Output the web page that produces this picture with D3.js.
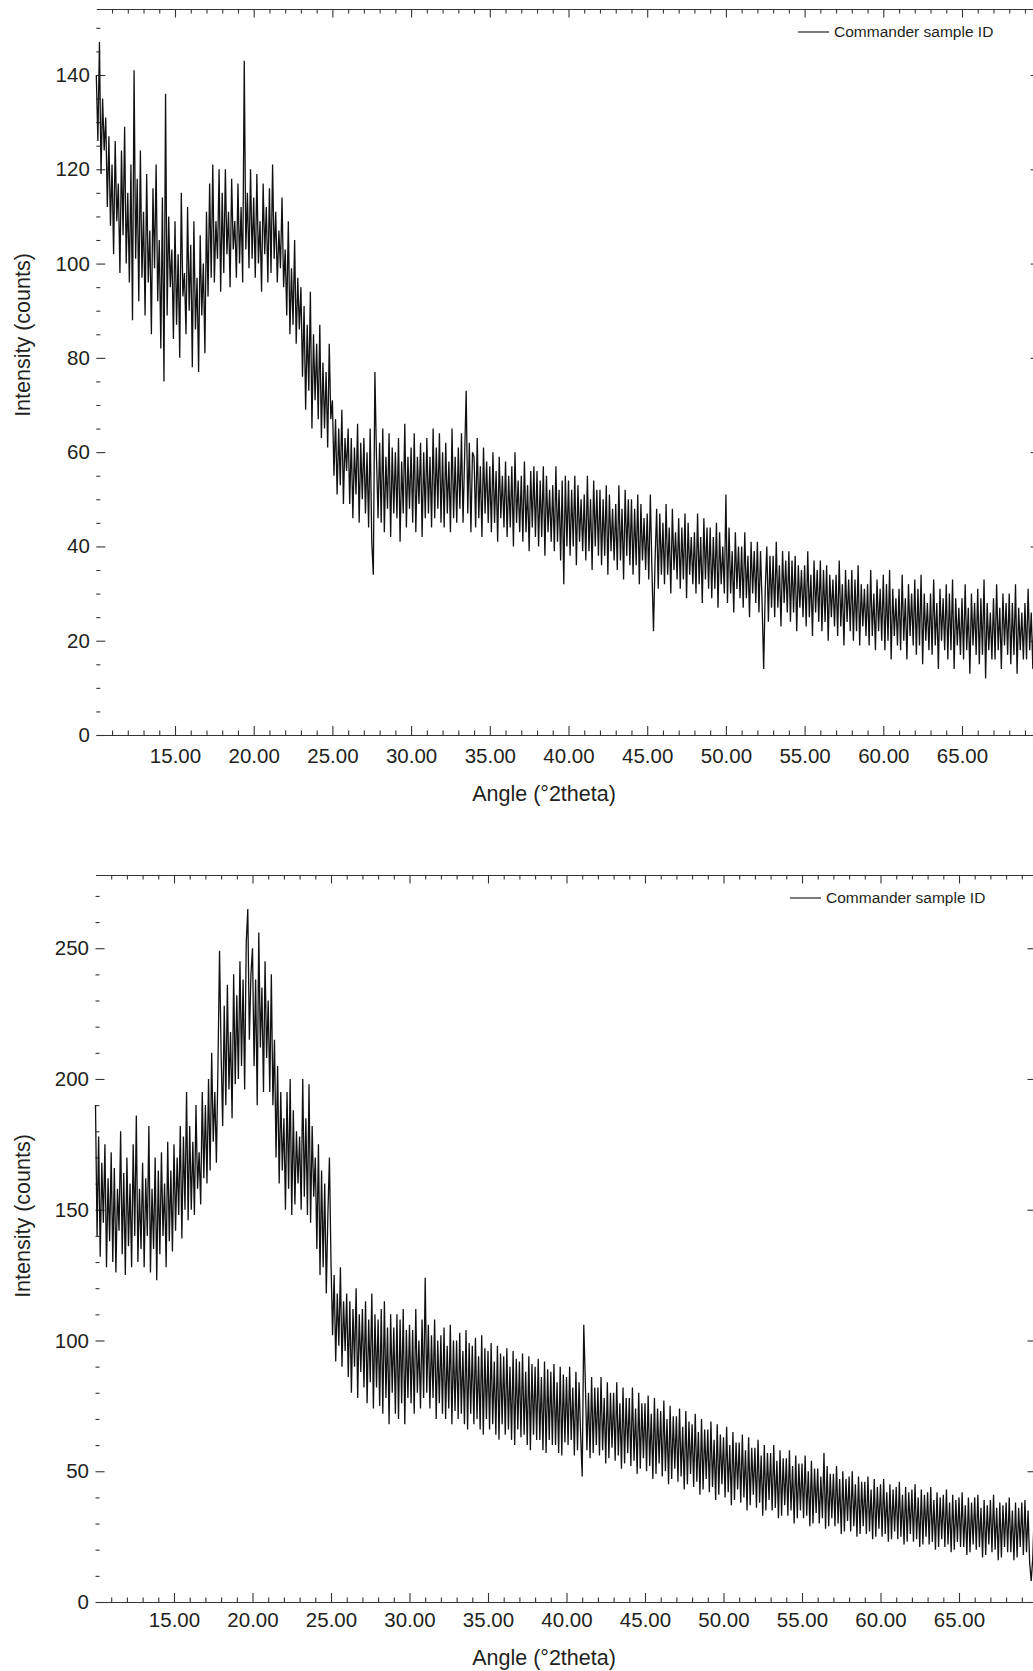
<!DOCTYPE html>
<html>
<head>
<meta charset="utf-8">
<script src="https://cdn.jsdelivr.net/npm/d3@7"></script>
<style>
  body { margin: 0; background: #fff; }
  svg { display: block; font-family: "Liberation Sans", Arial, sans-serif; }
</style>
</head>
<body>
<div id="chart"></div>
<script>
const W = 1033;
const H = 1671;

// scan grid: 10.0 to 69.9 degrees, one reading every 0.1
const angleStart = 10;
const angleStep = 0.1;

const xMajorTicks = [15, 20, 25, 30, 35, 40, 45, 50, 55, 60, 65];
const topYTicks = [0, 20, 40, 60, 80, 100, 120, 140];
const bottomYTicks = [0, 50, 100, 150, 200, 250];

const seriesName = "Commander sample ID";
const xTitle = "Angle (°2theta)";
const yTitle = "Intensity (counts)";

// upper pattern, counts, rows of one degree
const topCounts = [
  140,126,147,119,135,124,131,112,127,108,
  121,102,126,109,117,98,124,106,129,100,
  115,96,121,88,141,101,118,92,124,97,
  111,89,119,96,107,85,116,99,121,92,
  105,82,114,75,136,89,110,95,103,84,
  109,87,102,80,115,93,98,85,112,90,
  104,78,109,86,97,77,106,89,100,81,
  111,93,117,97,121,96,109,101,120,94,
  115,98,120,102,111,95,118,103,109,97,
  117,100,112,96,143,103,115,99,120,101,
  114,97,119,100,109,94,117,102,112,96,
  116,98,121,101,111,96,107,99,114,95,
  103,89,109,85,99,87,105,83,97,86,
  95,76,91,69,87,73,94,65,85,71,
  83,67,87,63,79,65,77,61,83,67,
  71,55,67,51,65,53,69,49,63,56,
  65,49,63,46,61,51,66,45,62,50,
  63,47,60,44,65,41,34,77,59,46,
  62,45,65,43,59,48,64,42,61,47,
  60,46,63,41,58,47,66,44,59,48,
  61,45,64,43,59,49,62,42,60,46,
  63,47,59,44,65,46,61,48,64,45,
  60,44,62,47,58,43,65,46,59,45,
  61,48,64,45,59,73,47,62,43,60,
  59,44,63,46,57,42,61,47,58,45,
  57,43,60,45,56,41,59,46,55,44,
  58,42,55,44,57,40,60,45,54,43,
  55,41,58,43,53,39,56,44,57,42,
  56,40,54,42,57,38,55,43,52,41,
  53,39,57,41,52,37,54,32,55,40,
  54,38,52,40,55,36,53,41,50,39,
  51,37,55,39,50,35,54,40,52,38,
  52,36,50,38,53,34,51,39,48,37,
  49,35,53,37,48,33,52,38,50,36,
  50,34,48,36,51,32,49,37,46,35,
  47,33,51,35,22,37,48,31,47,34,
  45,32,49,34,44,30,48,35,43,33,
  46,31,44,33,47,29,45,34,42,32,
  43,30,47,32,42,28,46,33,44,31,
  44,29,42,31,45,27,43,32,40,30,
  51,28,44,30,39,26,43,31,40,29,
  40,27,43,29,38,25,41,30,39,28,
  41,26,39,28,14,31,40,24,38,27,
  38,25,41,27,36,23,39,28,37,26,
  39,24,37,26,38,22,36,27,35,25,
  36,23,39,25,34,21,37,26,35,24,
  37,22,35,24,36,20,34,25,33,23,
  34,21,37,23,32,19,35,24,33,22,
  35,20,33,22,36,19,32,23,31,21,
  32,19,35,21,30,18,33,22,31,20,
  34,18,32,20,35,16,31,21,29,19,
  31,18,34,20,29,16,32,21,30,19,
  33,17,31,19,34,15,30,20,28,18,
  30,17,33,19,28,14,31,20,29,18,
  32,16,30,18,33,14,29,19,27,17,
  29,16,32,18,27,13,30,19,28,17,
  31,15,29,17,33,12,28,18,26,16,
  29,16,32,18,27,14,30,19,28,17,
  30,15,28,17,32,13,27,18,26,16,
  28,16,31,18,26,14,29,19,27,17
];

// lower pattern, counts, rows of one degree
const bottomCounts = [
  190,140,178,132,168,145,175,128,162,138,
  172,130,166,126,158,142,180,133,164,125,
  170,136,160,128,175,140,186,130,158,135,
  168,128,162,140,182,126,158,135,170,123,
  165,133,172,140,160,128,176,138,165,134,
  175,142,170,148,182,139,178,150,195,146,
  182,150,176,148,190,158,172,152,195,162,
  190,160,200,165,210,176,195,168,205,249,
  210,182,228,190,236,196,218,185,240,198,
  232,200,245,205,238,196,252,265,215,240,
  250,205,238,190,256,212,235,195,245,208,
  230,195,240,190,215,170,205,160,195,165,
  185,150,195,158,200,148,188,152,180,160,
  178,150,200,155,185,148,198,145,182,155,
  170,135,175,125,165,128,160,118,148,170,
  130,102,125,92,118,98,128,90,115,96,
  118,86,115,80,112,90,120,78,110,88,
  112,82,115,76,108,84,118,74,110,82,
  108,75,112,72,115,78,105,68,110,80,
  105,72,110,70,108,76,112,68,104,78,
  106,76,104,72,112,80,100,74,108,78,
  124,80,106,74,102,78,108,70,100,76,
  102,72,105,70,98,74,106,68,100,73,
  100,70,103,72,96,68,104,66,99,72,
  98,68,101,70,94,66,102,64,97,70,
  96,66,99,68,92,64,98,62,95,68,
  94,64,97,66,90,62,96,60,93,66,
  92,63,95,64,88,60,94,58,91,64,
  90,62,93,62,86,58,92,57,89,62,
  88,60,91,60,84,57,90,56,87,61,
  86,60,90,62,82,56,88,58,84,64,
  48,106,84,58,80,55,86,57,82,60,
  82,56,86,58,78,53,84,55,80,59,
  80,54,84,56,76,51,82,53,78,57,
  78,52,82,54,74,49,80,51,76,55,
  76,50,79,52,72,47,78,49,74,53,
  73,48,77,50,70,45,75,47,71,51,
  71,46,74,48,67,43,73,45,69,49,
  68,44,72,46,65,41,70,43,66,47,
  66,42,69,44,62,39,68,41,64,45,
  63,40,67,42,60,37,65,39,61,43,
  61,38,64,40,58,35,63,37,59,41,
  59,36,62,38,56,33,60,35,57,39,
  57,35,60,36,54,32,58,33,55,37,
  55,33,58,35,52,30,56,32,53,35,
  53,32,56,33,50,29,54,30,51,34,
  51,30,48,32,57,28,52,29,49,32,
  49,29,52,30,47,26,50,27,47,31,
  48,27,50,29,45,25,48,26,46,29,
  46,26,48,27,43,24,47,25,44,28,
  45,25,47,26,42,23,45,24,43,27,
  44,24,46,25,41,22,44,23,42,26,
  43,23,45,24,40,21,43,22,41,25,
  42,22,44,23,39,20,42,21,40,24,
  41,21,43,22,38,19,41,20,39,23,
  40,21,42,21,37,18,40,19,38,22,
  40,20,41,21,36,17,39,18,37,22,
  39,19,41,20,36,16,38,17,37,21,
  38,19,40,19,35,16,38,17,36,21,
  38,18,39,19,35,15,8,17,36,20
];

const panels = [
  {
    counts: topCounts, yTicks: topYTicks, yMax: 154, yMinorStep: 5,
    top: 9, bottom: 735, left: 96.3, right: 1040.7,
    labelPad: 13.5, legendX: 798, legendY: 32,
    yTitleX: 22, yTitleY: 335, xTitleY: 793
  },
  {
    counts: bottomCounts, yTicks: bottomYTicks, yMax: 278, yMinorStep: 10,
    top: 875, bottom: 1602, left: 95.5, right: 1037.5,
    labelPad: 10.5, legendX: 790, legendY: 898,
    yTitleX: 22, yTitleY: 1216, xTitleY: 1657
  }
];

const svg = d3.select("#chart")
  .append("svg")
  .attr("width", W)
  .attr("height", H);

const ink = "#231f20";

const drawPanel = (p) => {
  const angles = p.counts.map((d, i) => +(angleStart + i * angleStep).toFixed(1));
  const data = p.counts.map((c, i) => ({ a: angles[i], c }));

  const x = d3.scaleLinear().domain([10, 70]).range([p.left, p.right]);
  const y = d3.scaleLinear().domain([0, p.yMax]).range([p.bottom, p.top]);

  const xMinor = d3.range(11, 70).filter((v) => v % 5 !== 0);
  const yMinor = d3.range(0, p.yMax, p.yMinorStep).filter((v) => !p.yTicks.includes(v));

  const g = svg.append("g");

  // bottom axis, ticks point into the plot
  g.append("g")
    .attr("transform", `translate(0,${p.bottom})`)
    .call(d3.axisBottom(x).tickValues(xMajorTicks).tickSize(-9).tickSizeOuter(0)
      .tickPadding(p.labelPad).tickFormat(d3.format(".2f")));
  g.append("g")
    .attr("transform", `translate(0,${p.bottom})`)
    .call(d3.axisBottom(x).tickValues(xMinor).tickSize(-4.5).tickFormat(""))
    .call((s) => s.select(".domain").remove());

  // top frame
  g.append("g")
    .attr("transform", `translate(0,${p.top})`)
    .call(d3.axisTop(x).tickValues(xMajorTicks).tickSize(-8.5).tickSizeOuter(0).tickFormat(""));
  g.append("g")
    .attr("transform", `translate(0,${p.top})`)
    .call(d3.axisTop(x).tickValues(xMinor).tickSize(-4.5).tickFormat(""))
    .call((s) => s.select(".domain").remove());

  // left axis, no spine
  g.append("g")
    .attr("transform", `translate(${p.left},0)`)
    .call(d3.axisLeft(y).tickValues(p.yTicks).tickSize(-9).tickPadding(6.5))
    .call((s) => s.select(".domain").remove());
  g.append("g")
    .attr("transform", `translate(${p.left},0)`)
    .call(d3.axisLeft(y).tickValues(yMinor).tickSize(-4).tickFormat(""))
    .call((s) => s.select(".domain").remove());

  // right side, mostly off the page
  g.append("g")
    .attr("transform", `translate(${p.right},0)`)
    .call(d3.axisRight(y).tickValues(p.yTicks).tickSize(-10).tickFormat(""))
    .call((s) => s.select(".domain").remove());

  g.selectAll(".tick text")
    .attr("font-size", 20.5)
    .attr("fill", ink)
    .attr("font-family", "Liberation Sans, Arial, sans-serif");
  g.selectAll(".tick line").attr("stroke", "#333").attr("stroke-width", 1.1);
  g.selectAll(".domain").attr("stroke", "#333").attr("stroke-width", 1.2);

  // the scan
  g.append("path")
    .datum(data)
    .attr("fill", "none")
    .attr("stroke", "#111")
    .attr("stroke-width", 1.3)
    .attr("stroke-linejoin", "miter")
    .attr("d", d3.line().x((d) => x(d.a)).y((d) => y(d.c)));

  // legend
  g.append("line")
    .attr("x1", p.legendX).attr("x2", p.legendX + 31)
    .attr("y1", p.legendY).attr("y2", p.legendY)
    .attr("stroke", "#222").attr("stroke-width", 1.2);
  g.append("text")
    .attr("x", p.legendX + 36)
    .attr("y", p.legendY)
    .attr("dy", "0.35em")
    .attr("font-size", 15.5)
    .attr("fill", ink)
    .text(seriesName);

  // titles
  g.append("text")
    .attr("x", 544)
    .attr("y", p.xTitleY)
    .attr("dy", "0.35em")
    .attr("text-anchor", "middle")
    .attr("font-size", 21.5)
    .attr("fill", ink)
    .text(xTitle);
  g.append("text")
    .attr("transform", `translate(${p.yTitleX},${p.yTitleY}) rotate(-90)`)
    .attr("dy", "0.35em")
    .attr("text-anchor", "middle")
    .attr("font-size", 21.5)
    .attr("fill", ink)
    .text(yTitle);
};

panels.forEach(drawPanel);
</script>
</body>
</html>
